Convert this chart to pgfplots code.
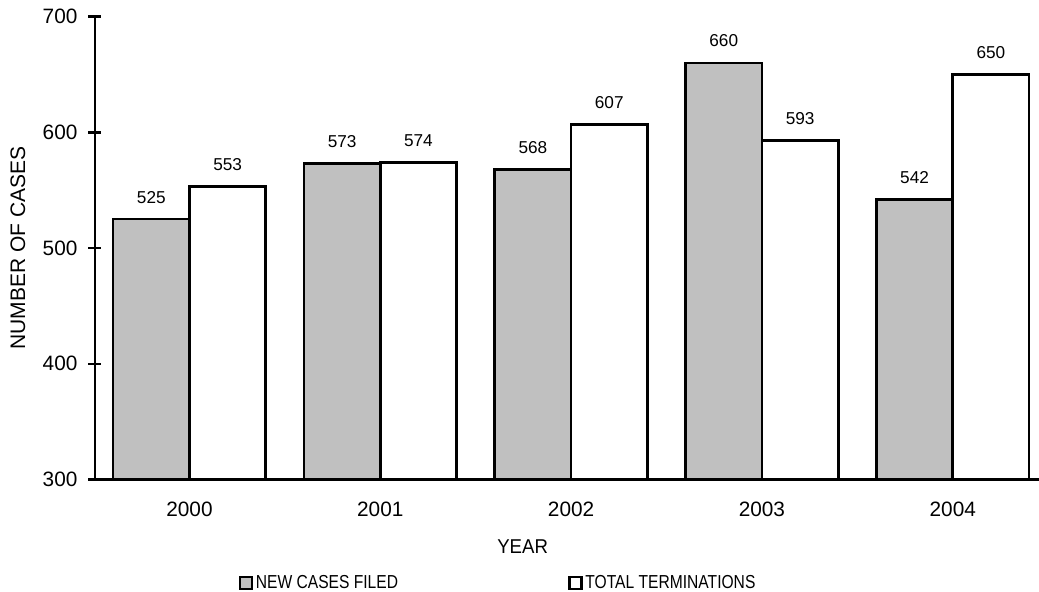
\documentclass[border=0pt]{standalone}
\usepackage{pgfplots}
\pgfplotsset{compat=1.18}
\usetikzlibrary{calc}
\usepackage{fontspec}
\setmainfont{Liberation Sans}
\newfontfamily\legendfont[FakeStretch=0.83]{Liberation Sans}
\newfontfamily\yearfont[FakeStretch=0.93]{Liberation Sans}
\definecolor{bargray}{RGB}{192,192,192}
\begin{document}
\begin{tikzpicture}
\begin{axis}[
  scale only axis, width=472pt, height=231.4pt,
  xmin=-0.495, xmax=4.452, ymin=300, ymax=700,
  ybar, bar width=0.4,
  xtick={0,1,2,3,4}, xticklabels={2000,2001,2002,2003,2004},
  ytick={300,400,500,600,700},
  axis x line*=bottom, axis y line*=left,
  axis line style={-, line width=1.2pt, black},
  tick align=center, major tick length=6.5pt,
  y tick style={line width=1.2pt, black},
  x tick style={draw=none},
  /pgf/number format/assume math mode=true,
  tick label style={font=\fontsize{10.4}{12}\selectfont},
  xticklabel style={yshift=-4.5pt},
  yticklabel style={xshift=-2pt},
  xlabel={YEAR}, ylabel={NUMBER OF CASES},
  xlabel style={at={(rel axis cs:0.453,-0.1459)}, anchor=center, font=\yearfont\fontsize{10}{12}\selectfont},
  ylabel style={at={(rel axis cs:-0.0816,0.5)}, anchor=center, rotate=0, font=\fontsize{10.5}{12}\selectfont},
  nodes near coords,
  every node near coord/.append style={font=\fontsize{8.6}{10}\selectfont, yshift=4pt, black},
  legend columns=2,
  legend style={at={(0.152,-0.2236)}, anchor=west, draw=none, fill=none,
    inner sep=0pt, font=\legendfont\fontsize{9.4}{11}\selectfont,
    /tikz/every even column/.append style={column sep=84pt},
    nodes={inner sep=1.2pt}},
  legend image code/.code={\draw[#1, draw=black, line width=1.3pt] (0.3pt,-3pt) rectangle (6.3pt,3pt);},
]
\addplot[fill=bargray, draw=black, line width=1.3pt, bar shift=-0.2]
  coordinates {(0,525) (1,573) (2,568) (3,660) (4,542)};
\addplot[fill=white, draw=black, line width=1.3pt, bar shift=0.2]
  coordinates {(0,553) (1,574) (2,607) (3,593) (4,650)};
\legend{NEW CASES FILED, TOTAL TERMINATIONS}
\end{axis}
\pgfresetboundingbox
\path ($(current axis.south west)+(-47.5pt,-56.25pt)$) rectangle ($(current axis.north east)+(0pt,8.35pt)$);
\end{tikzpicture}
\end{document}
